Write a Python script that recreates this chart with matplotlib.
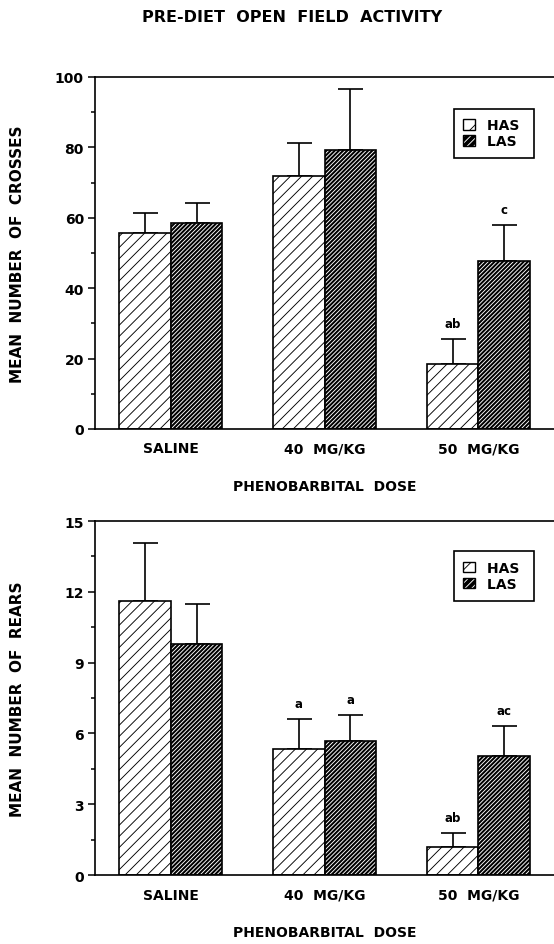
import matplotlib.pyplot as plt
import numpy as np
from matplotlib.patches import Patch

plt.rcParams['font.family'] = ['DejaVu Sans']
plt.rcParams['font.weight'] = 'bold'
plt.rcParams['hatch.linewidth'] = 0.65

doses = ["SALINE", "40  MG/KG", "50  MG/KG"]

# crosses (top panel)
cross_has = [55.7, 72.0, 18.5]
cross_has_err = [5.6, 9.3, 7.1]
cross_las = [58.5, 79.3, 47.7]
cross_las_err = [5.7, 17.3, 10.3]
cross_has_mark = ["", "", "ab"]
cross_las_mark = ["", "", "c"]

# rears (bottom panel)
rear_has = [11.6, 5.34, 1.19]
rear_has_err = [2.45, 1.26, 0.59]
rear_las = [9.8, 5.68, 5.04]
rear_las_err = [1.7, 1.1, 1.26]
rear_has_mark = ["", "a", "ab"]
rear_las_mark = ["", "a", "ac"]

W = 0.335
x = np.arange(len(doses))

fig = plt.figure(figsize=(5.54, 9.45), dpi=100)
fig.text(0.528, 0.981, "PRE-DIET  OPEN  FIELD  ACTIVITY", ha='center', va='center',
         fontsize=11.5, fontweight='bold')


def panel(ax, has, has_err, las, las_err, has_mark, las_mark, ymax, step, ylabel, leg_y):
    ax.bar(x - W / 2, has, W, color='white', edgecolor='black', hatch='///', lw=1.2, zorder=2)
    ax.bar(x + W / 2, las, W, color='black', edgecolor='white', hatch='////////', lw=0, zorder=2)
    ax.bar(x + W / 2, las, W, fill=False, edgecolor='black', lw=1.2, zorder=3)
    ax.errorbar(x - W / 2, has, yerr=[np.zeros(3), has_err], fmt='none', ecolor='black',
                elinewidth=1.2, capsize=9, capthick=1.2, zorder=1)
    ax.errorbar(x + W / 2, las, yerr=[np.zeros(3), las_err], fmt='none', ecolor='black',
                elinewidth=1.2, capsize=9, capthick=1.2, zorder=1)
    off = ymax * 0.026
    for i in range(len(x)):
        if has_mark[i]:
            ax.text(x[i] - W / 2, has[i] + has_err[i] + off, has_mark[i], ha='center',
                    va='bottom', fontsize=8.5, fontweight='bold')
        if las_mark[i]:
            ax.text(x[i] + W / 2, las[i] + las_err[i] + off, las_mark[i], ha='center',
                    va='bottom', fontsize=8.5, fontweight='bold')

    ax.set_xlim(-0.494, 2.49)
    ax.set_ylim(0, ymax)
    ax.set_yticks(np.arange(0, ymax + 0.1, step))
    ax.set_yticks(np.arange(step / 2, ymax, step), minor=True)
    ax.set_xticks(x)
    ax.set_xticklabels(doses, fontsize=10, fontweight='bold')
    ax.tick_params(axis='x', length=0, pad=9)
    ax.tick_params(axis='y', which='major', length=5, width=1.1, labelsize=10, pad=3)
    ax.tick_params(axis='y', which='minor', length=3, width=1.1)
    ax.spines['right'].set_visible(False)
    for s in ['left', 'top', 'bottom']:
        ax.spines[s].set_linewidth(1.2)
    ax.set_ylabel(ylabel, fontsize=11, fontweight='bold', va='center')
    ax.yaxis.set_label_coords(-0.168, 0.5)
    ax.set_xlabel("PHENOBARBITAL  DOSE", fontsize=10, fontweight='bold', labelpad=17)

    h1 = Patch(facecolor='white', edgecolor='black', hatch='//', lw=1)
    h2a = Patch(facecolor='black', edgecolor='white', hatch='/////', lw=0)
    h2b = Patch(fill=False, edgecolor='black', lw=1)
    leg = ax.legend([h1, (h2a, h2b)], ["HAS ", "LAS "], loc='upper left',
                    bbox_to_anchor=(0.782, leg_y), borderaxespad=0, fancybox=False,
                    edgecolor='black', framealpha=1, handlelength=0.8, handleheight=0.8,
                    handletextpad=0.9, borderpad=0.7, labelspacing=0.15,
                    prop={'size': 10, 'weight': 'bold'})
    leg.get_frame().set_linewidth(1.2)


ax1 = fig.add_axes([0.1715, 0.545, 0.828, 0.3725])
panel(ax1, cross_has, cross_has_err, cross_las, cross_las_err, cross_has_mark, cross_las_mark,
      100, 20, "MEAN  NUMBER  OF  CROSSES", 0.91)

ax2 = fig.add_axes([0.1715, 0.073, 0.828, 0.3746])
panel(ax2, rear_has, rear_has_err, rear_las, rear_las_err, rear_has_mark, rear_las_mark,
      15, 3, "MEAN  NUMBER  OF  REARS", 0.915)

plt.savefig("out.png", dpi=100)
